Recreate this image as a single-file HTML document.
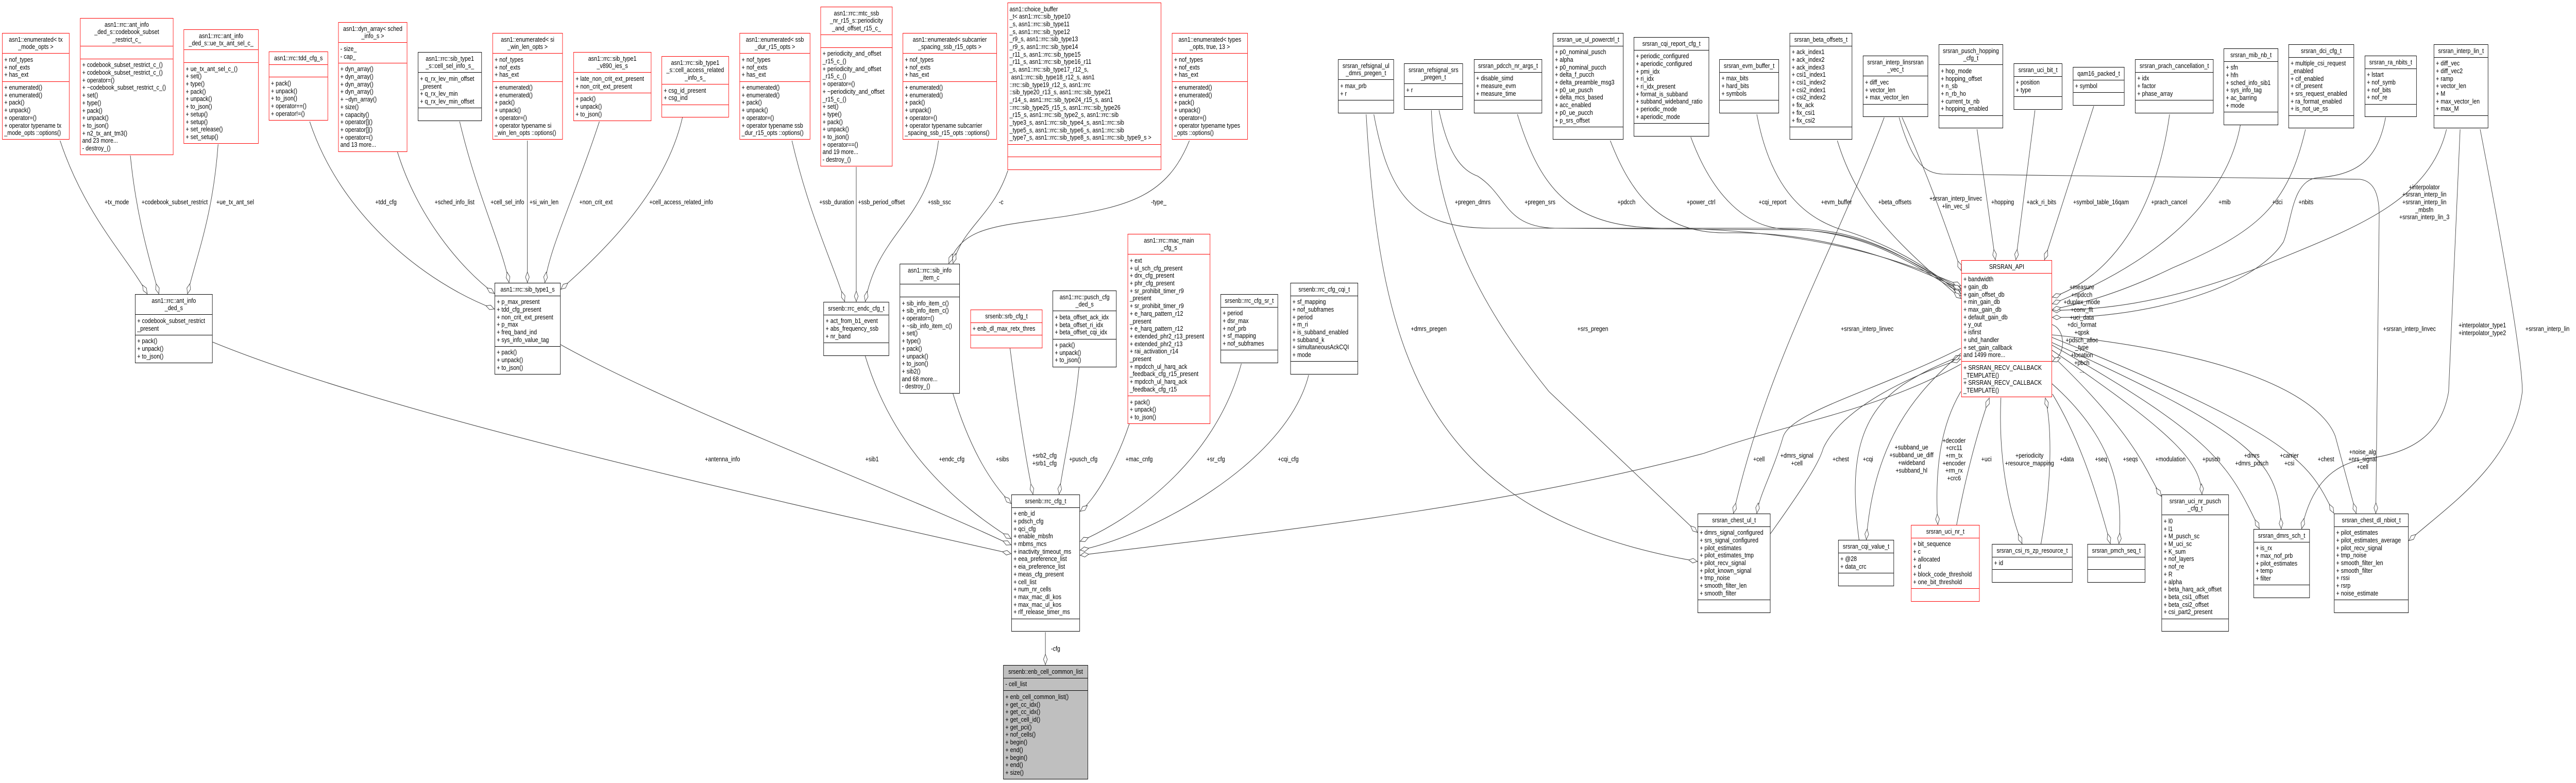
<!DOCTYPE html>
<html><head><meta charset="utf-8">
<meta name="viewport" content="width=6047, initial-scale=1">
<style>
html,body{margin:0;padding:0;background:#fff;width:6047px;height:1520px;overflow:hidden}
#w{position:absolute;left:0;top:0;width:6047px;height:1520px;overflow:hidden;background:#fff;transform-origin:0 0}
svg{position:absolute;left:0;top:0;display:block}
.b{position:absolute;box-sizing:border-box;border:1px solid #000;background:#fff;font:13px/14.7px "Liberation Sans",sans-serif;color:#000;z-index:2}
.b>div{padding:4.5px 4px;border-top:1px solid #000;white-space:nowrap;overflow:hidden}
.b>div:first-child{border-top:0;text-align:center}
.r{border-color:#f00}.r>div{border-color:#f00}
.g{background:#bfbfbf}
</style></head><body><div id="w">
<svg width="6047" height="1520" viewBox="0 0 6047 1520" xmlns="http://www.w3.org/2000/svg">
<defs><marker id="d" viewBox="-1 -6 23 12" refX="21" refY="0" markerWidth="23" markerHeight="12" markerUnits="userSpaceOnUse" orient="auto"><path d="M0,0 L10,-4.5 L20,0 L10,4.5 Z" fill="#fff" stroke="#404040" stroke-width="1"/></marker></defs>
<g fill="none" stroke="#404040" stroke-width="1.1" marker-end="url(#d)">
<path d="M141,273 C200,420 300,500 346,571"/>
<path d="M306,302 C320,420 350,500 373,571"/>
<path d="M512,280 C500,420 460,500 440,571"/>
<path d="M727,236 C800,420 1000,550 1161,600"/>
<path d="M933,295 C980,420 1080,520 1161,570"/>
<path d="M1079,236 C1120,380 1180,480 1195,549"/>
<path d="M1238,273 L1238,549"/>
<path d="M1407,236 C1350,380 1290,480 1279,549"/>
<path d="M1602,228 C1560,380 1400,500 1316,562"/>
<path d="M499,664 C900,800 1700,950 2374,1075"/>
<path d="M1316,669 C1600,800 2100,950 2374,1058"/>
<path d="M1859,273 C1900,420 1960,520 1983,586"/>
<path d="M2010,324 L2010,586"/>
<path d="M2203,273 C2180,430 2060,450 2031,586"/>
<path d="M2366,331 C2330,420 2260,440 2237,512"/>
<path d="M2792,273 C2740,380 2650,400 2500,420 C2330,440 2260,440 2227,512"/>
<path d="M2031,691 C2100,880 2250,980 2374,1046"/>
<path d="M2237,764 C2280,880 2330,940 2374,978"/>
<path d="M2371,676 C2390,800 2410,900 2425,960"/>
<path d="M2533,713 C2520,820 2495,900 2486,960"/>
<path d="M2651,823 C2620,900 2570,970 2535,993"/>
<path d="M2914,706 C2850,900 2650,1010 2535,1051"/>
<path d="M3072,728 C3020,900 2700,1040 2535,1068"/>
<path d="M4603,707 C4400,800 4200,820 4000,880 C3500,990 2900,1040 2535,1078"/>
<path d="M3225,222 C3260,380 3320,443 3500,443 L4200,443 C4400,443 4500,520 4604,565"/>
<path d="M3378,214 C3400,300 3430,330 3469,342 C3540,380 3530,440 3650,443 L4200,446 C4400,446 4500,520 4604,560"/>
<path d="M3562,222 C3620,380 3700,440 3900,443 C4300,445 4500,520 4604,555"/>
<path d="M3780,273 C3830,380 3900,452 4050,452 C4300,448 4500,520 4604,562"/>
<path d="M3969,266 C4020,380 4100,445 4200,445 C4400,450 4500,520 4604,570"/>
<path d="M4124,222 C4160,380 4250,430 4340,450 C4450,480 4550,530 4604,575"/>
<path d="M4313,273 C4360,400 4450,470 4604,580"/>
<path d="M4465,228 C4520,330 4560,420 4604,526"/>
<path d="M4458,228 C4490,320 4520,336 4560,338 L5540,348 C5575,352 5585,380 5585,420 L5577,997"/>
<path d="M4423,228 C4300,500 4150,700 4069,997"/>
<path d="M4603,676 C4400,760 4200,800 4185,850 C4160,920 4130,960 4124,997"/>
<path d="M4156,1036 C4230,950 4270,900 4280,870 C4320,800 4450,740 4603,697"/>
<path d="M4364,1048 C4340,900 4360,800 4480,740 C4540,710 4580,700 4603,690"/>
<path d="M4603,686 C4500,760 4400,850 4381,1048"/>
<path d="M4603,760 C4560,820 4540,900 4549,1019"/>
<path d="M4593,1019 C4620,900 4650,820 4670,772"/>
<path d="M4697,772 C4690,900 4720,1000 4747,1056"/>
<path d="M4791,1056 C4820,920 4815,820 4801,772"/>
<path d="M4818,765 C4880,850 4920,950 4954,1056"/>
<path d="M4817,745 C4960,850 4985,950 4974,1056"/>
<path d="M4817,690 C5020,850 5040,920 5074,964"/>
<path d="M4817,680 C5120,850 5165,900 5169,960"/>
<path d="M4817,670 C5200,850 5230,900 5304,1027"/>
<path d="M4817,665 C5310,850 5350,900 5355,1027"/>
<path d="M4817,655 C5400,850 5420,900 5479,997"/>
<path d="M4817,650 C5400,700 5470,820 5482,847 L5531,997"/>
<path d="M5775,251 L5748,760 C5730,850 5650,880 5560,890 C5460,900 5420,960 5403,1027"/>
<path d="M5822,251 C5880,500 5921,700 5921,760 C5900,900 5750,980 5654,1050"/>
<path d="M5743,251 C5700,400 5500,450 5300,520 C5050,600 4900,600 4817,603"/>
<path d="M5600,228 C5580,320 5520,340 5440,345 C5380,350 5380,430 5360,470 C5280,570 5000,620 4817,616"/>
<path d="M5412,251 C5370,400 5300,450 5100,520 C4950,580 4850,595 4817,601"/>
<path d="M5259,243 C5220,420 5000,530 4817,590"/>
<path d="M5093,222 C5060,420 4950,540 4817,577"/>
<path d="M4915,206 L4799,505"/>
<path d="M4777,214 L4732,505"/>
<path d="M4641,251 L4684,505"/>
<path d="M2454,1227 L2454,1291"/>
<path d="M3207,222 C3240,700 3350,1000 3985,1090"/>
<path d="M3360,214 C3370,450 3500,620 3636,760 L3985,1034"/>
<path d="M4817,630 C4850,640 4850,690 4817,702"/>
</g>
<g font-family="Liberation Sans, sans-serif" font-size="13" fill="#000" text-anchor="middle" dominant-baseline="central">
<text x="274" y="392">+tx_mode</text>
<text x="410" y="392">+codebook_subset_restrict</text>
<text x="552" y="392">+ue_tx_ant_sel</text>
<text x="906" y="392">+tdd_cfg</text>
<text x="1067" y="392">+sched_info_list</text>
<text x="1191" y="392">+cell_sel_info</text>
<text x="1277" y="392">+si_win_len</text>
<text x="1399" y="392">+non_crit_ext</text>
<text x="1599" y="392">+cell_access_related_info</text>
<text x="1964" y="392">+ssb_duration</text>
<text x="2069" y="392">+ssb_period_offset</text>
<text x="2205" y="392">+ssb_ssc</text>
<text x="2350" y="392">-c</text>
<text x="2720" y="392">-type_</text>
<text x="3457" y="392">+pregen_dmrs</text>
<text x="3615" y="392">+pregen_srs</text>
<text x="3818" y="392">+pdcch</text>
<text x="3993" y="392">+power_ctrl</text>
<text x="4161" y="392">+cqi_report</text>
<text x="4311" y="392">+evm_buffer</text>
<text x="4448" y="392">+beta_offsets</text>
<text x="4591" y="385">+srsran_interp_linvec</text>
<text x="4591" y="400">+lin_vec_sl</text>
<text x="4701" y="392">+hopping</text>
<text x="4792" y="392">+ack_ri_bits</text>
<text x="4932" y="392">+symbol_table_16qam</text>
<text x="5092" y="392">+prach_cancel</text>
<text x="5222" y="392">+mib</text>
<text x="5346" y="392">+dci</text>
<text x="5413" y="392">+nbits</text>
<text x="5691" y="363">+interpolator</text>
<text x="5691" y="377">+srsran_interp_lin</text>
<text x="5691" y="392">+srsran_interp_lin</text>
<text x="5691" y="407">_mbsfn</text>
<text x="5691" y="421">+srsran_interp_lin_3</text>
<text x="3354" y="638">+dmrs_pregen</text>
<text x="3739" y="638">+srs_pregen</text>
<text x="4383" y="638">+srsran_interp_linvec</text>
<text x="5656" y="638">+srsran_interp_linvec</text>
<text x="5827" y="631">+interpolator_type1</text>
<text x="5827" y="646">+interpolator_type2</text>
<text x="5980" y="638">+srsran_interp_lin</text>
<text x="1696" y="891">+antenna_info</text>
<text x="2047" y="891">+sib1</text>
<text x="2234" y="891">+endc_cfg</text>
<text x="2353" y="891">+sibs</text>
<text x="2452" y="884">+srb2_cfg</text>
<text x="2452" y="899">+srb1_cfg</text>
<text x="2543" y="891">+pusch_cfg</text>
<text x="2674" y="891">+mac_cnfg</text>
<text x="2854" y="891">+sr_cfg</text>
<text x="3024" y="891">+cqi_cfg</text>
<text x="4129" y="891">+cell</text>
<text x="4218" y="884">+dmrs_signal</text>
<text x="4218" y="899">+cell</text>
<text x="4321" y="891">+chest</text>
<text x="4385" y="891">+cqi</text>
<text x="4487" y="868">+subband_ue</text>
<text x="4487" y="883">+subband_ue_diff</text>
<text x="4487" y="898">+wideband</text>
<text x="4487" y="913">+subband_hl</text>
<text x="4587" y="855">+decoder</text>
<text x="4587" y="869">+crc11</text>
<text x="4587" y="884">+rm_tx</text>
<text x="4587" y="899">+encoder</text>
<text x="4587" y="913">+rm_rx</text>
<text x="4587" y="928">+crc6</text>
<text x="4663" y="891">+uci</text>
<text x="4764" y="884">+periodicity</text>
<text x="4764" y="899">+resource_mapping</text>
<text x="4852" y="891">+data</text>
<text x="4932" y="891">+seq</text>
<text x="5001" y="891">+seqs</text>
<text x="5095" y="891">+modulation</text>
<text x="5191" y="891">+pusch</text>
<text x="5286" y="884">+dmrs</text>
<text x="5286" y="899">+dmrs_pdsch</text>
<text x="5374" y="884">+carrier</text>
<text x="5374" y="899">+csi</text>
<text x="5460" y="891">+chest</text>
<text x="5546" y="877">+noise_alg</text>
<text x="5546" y="891">+nrs_signal</text>
<text x="5546" y="906">+cell</text>
<text x="2478" y="1259">-cfg</text>
<text x="4887" y="557">+measure</text>
<text x="4887" y="572">+npdcch</text>
<text x="4887" y="586">+duplex_mode</text>
<text x="4887" y="601">+conv_fft</text>
<text x="4887" y="616">+uci_data</text>
<text x="4887" y="630">+dci_format</text>
<text x="4887" y="645">+qpsk</text>
<text x="4887" y="660">+pdsch_alloc</text>
<text x="4887" y="674">_type</text>
<text x="4887" y="689">+location</text>
<text x="4887" y="704">+pbch</text>
<text x="4887" y="719">...</text>
</g>
</svg>

<div class="b r" style="left:5px;top:64px;width:158px"><div>asn1::enumerated&lt; tx<br>_mode_opts &gt;</div><div>+ nof_types<br>+ nof_exts<br>+ has_ext</div><div>+ enumerated()<br>+ enumerated()<br>+ pack()<br>+ unpack()<br>+ operator=()<br>+ operator typename tx<br>_mode_opts ::options()</div></div>

<div class="b r" style="left:188px;top:35px;width:219px"><div>asn1::rrc::ant_info<br>_ded_s::codebook_subset<br>_restrict_c_</div><div>&nbsp;</div><div>+ codebook_subset_restrict_c_()<br>+ codebook_subset_restrict_c_()<br>+ operator=()<br>+ ~codebook_subset_restrict_c_()<br>+ set()<br>+ type()<br>+ pack()<br>+ unpack()<br>+ to_json()<br>+ n2_tx_ant_tm3()<br>and 23 more...<br>- destroy_()</div></div>

<div class="b r" style="left:431px;top:57px;width:176px"><div>asn1::rrc::ant_info<br>_ded_s::ue_tx_ant_sel_c_</div><div>&nbsp;</div><div>+ ue_tx_ant_sel_c_()<br>+ set()<br>+ type()<br>+ pack()<br>+ unpack()<br>+ to_json()<br>+ setup()<br>+ setup()<br>+ set_release()<br>+ set_setup()</div></div>

<div class="b r" style="left:631px;top:100px;width:139px"><div>asn1::rrc::tdd_cfg_s</div><div>&nbsp;</div><div>+ pack()<br>+ unpack()<br>+ to_json()<br>+ operator==()<br>+ operator!=()</div></div>

<div class="b r" style="left:794px;top:43px;width:162px"><div>asn1::dyn_array&lt; sched<br>_info_s &gt;</div><div>- size_<br>- cap_</div><div>+ dyn_array()<br>+ dyn_array()<br>+ dyn_array()<br>+ dyn_array()<br>+ ~dyn_array()<br>+ size()<br>+ capacity()<br>+ operator[]()<br>+ operator[]()<br>+ operator=()<br>and 13 more...</div></div>

<div class="b" style="left:981px;top:101px;width:150px"><div>asn1::rrc::sib_type1<br>_s::cell_sel_info_s_</div><div>+ q_rx_lev_min_offset<br>_present<br>+ q_rx_lev_min<br>+ q_rx_lev_min_offset</div><div>&nbsp;</div></div>

<div class="b r" style="left:1156px;top:64px;width:165px"><div>asn1::enumerated&lt; si<br>_win_len_opts &gt;</div><div>+ nof_types<br>+ nof_exts<br>+ has_ext</div><div>+ enumerated()<br>+ enumerated()<br>+ pack()<br>+ unpack()<br>+ operator=()<br>+ operator typename si<br>_win_len_opts ::options()</div></div>

<div class="b r" style="left:1346px;top:101px;width:183px"><div>asn1::rrc::sib_type1<br>_v890_ies_s</div><div>+ late_non_crit_ext_present<br>+ non_crit_ext_present</div><div>+ pack()<br>+ unpack()<br>+ to_json()</div></div>

<div class="b r" style="left:1553px;top:109px;width:158px"><div>asn1::rrc::sib_type1<br>_s::cell_access_related<br>_info_s_</div><div>+ csg_id_present<br>+ csg_ind</div><div>&nbsp;</div></div>

<div class="b r" style="left:1736px;top:64px;width:166px"><div>asn1::enumerated&lt; ssb<br>_dur_r15_opts &gt;</div><div>+ nof_types<br>+ nof_exts<br>+ has_ext</div><div>+ enumerated()<br>+ enumerated()<br>+ pack()<br>+ unpack()<br>+ operator=()<br>+ operator typename ssb<br>_dur_r15_opts ::options()</div></div>

<div class="b r" style="left:1926px;top:13px;width:169px"><div>asn1::rrc::mtc_ssb<br>_nr_r15_s::periodicity<br>_and_offset_r15_c_</div><div>&nbsp;</div><div>+ periodicity_and_offset<br>_r15_c_()<br>+ periodicity_and_offset<br>_r15_c_()<br>+ operator=()<br>+ ~periodicity_and_offset<br>_r15_c_()<br>+ set()<br>+ type()<br>+ pack()<br>+ unpack()<br>+ to_json()<br>+ operator==()<br>and 19 more...<br>- destroy_()</div></div>

<div class="b r" style="left:2119px;top:64px;width:221px"><div>asn1::enumerated&lt; subcarrier<br>_spacing_ssb_r15_opts &gt;</div><div>+ nof_types<br>+ nof_exts<br>+ has_ext</div><div>+ enumerated()<br>+ enumerated()<br>+ pack()<br>+ unpack()<br>+ operator=()<br>+ operator typename subcarrier<br>_spacing_ssb_r15_opts ::options()</div></div>

<div class="b r" style="left:2365px;top:5px;width:361px"><div style="text-align:left">asn1::choice_buffer<br>_t&lt; asn1::rrc::sib_type10<br>_s, asn1::rrc::sib_type11<br>_s, asn1::rrc::sib_type12<br>_r9_s, asn1::rrc::sib_type13<br>_r9_s, asn1::rrc::sib_type14<br>_r11_s, asn1::rrc::sib_type15<br>_r11_s, asn1::rrc::sib_type16_r11<br>_s, asn1::rrc::sib_type17_r12_s,<br>&nbsp;asn1::rrc::sib_type18_r12_s, asn1<br>::rrc::sib_type19_r12_s, asn1::rrc<br>::sib_type20_r13_s, asn1::rrc::sib_type21<br>_r14_s, asn1::rrc::sib_type24_r15_s, asn1<br>::rrc::sib_type25_r15_s, asn1::rrc::sib_type26<br>_r15_s, asn1::rrc::sib_type2_s, asn1::rrc::sib<br>_type3_s, asn1::rrc::sib_type4_s, asn1::rrc::sib<br>_type5_s, asn1::rrc::sib_type6_s, asn1::rrc::sib<br>_type7_s, asn1::rrc::sib_type8_s, asn1::rrc::sib_type9_s &gt;</div><div>&nbsp;</div><div>&nbsp;</div></div>

<div class="b r" style="left:2751px;top:64px;width:178px"><div>asn1::enumerated&lt; types<br>_opts, true, 13 &gt;</div><div>+ nof_types<br>+ nof_exts<br>+ has_ext</div><div>+ enumerated()<br>+ enumerated()<br>+ pack()<br>+ unpack()<br>+ operator=()<br>+ operator typename types<br>_opts ::options()</div></div>

<div class="b" style="left:317px;top:571px;width:182px"><div>asn1::rrc::ant_info<br>_ded_s</div><div>+ codebook_subset_restrict<br>_present</div><div>+ pack()<br>+ unpack()<br>+ to_json()</div></div>

<div class="b" style="left:1161px;top:549px;width:155px"><div>asn1::rrc::sib_type1_s</div><div>+ p_max_present<br>+ tdd_cfg_present<br>+ non_crit_ext_present<br>+ p_max<br>+ freq_band_ind<br>+ sys_info_value_tag</div><div>+ pack()<br>+ unpack()<br>+ to_json()</div></div>

<div class="b" style="left:2112px;top:512px;width:141px"><div>asn1::rrc::sib_info<br>_item_c</div><div>&nbsp;</div><div>+ sib_info_item_c()<br>+ sib_info_item_c()<br>+ operator=()<br>+ ~sib_info_item_c()<br>+ set()<br>+ type()<br>+ pack()<br>+ unpack()<br>+ to_json()<br>+ sib2()<br>and 68 more...<br>- destroy_()</div></div>

<div class="b" style="left:1933px;top:586px;width:154px"><div>srsenb::rrc_endc_cfg_t</div><div>+ act_from_b1_event<br>+ abs_frequency_ssb<br>+ nr_band</div><div>&nbsp;</div></div>

<div class="b r" style="left:2278px;top:601px;width:169px"><div>srsenb::srb_cfg_t</div><div>+ enb_dl_max_retx_thres</div><div>&nbsp;</div></div>

<div class="b" style="left:2471px;top:564px;width:150px"><div>asn1::rrc::pusch_cfg<br>_ded_s</div><div>+ beta_offset_ack_idx<br>+ beta_offset_ri_idx<br>+ beta_offset_cqi_idx</div><div>+ pack()<br>+ unpack()<br>+ to_json()</div></div>

<div class="b r" style="left:2647px;top:454px;width:194px"><div>asn1::rrc::mac_main<br>_cfg_s</div><div>+ ext<br>+ ul_sch_cfg_present<br>+ drx_cfg_present<br>+ phr_cfg_present<br>+ sr_prohibit_timer_r9<br>_present<br>+ sr_prohibit_timer_r9<br>+ e_harq_pattern_r12<br>_present<br>+ e_harq_pattern_r12<br>+ extended_phr2_r13_present<br>+ extended_phr2_r13<br>+ rai_activation_r14<br>_present<br>+ mpdcch_ul_harq_ack<br>_feedback_cfg_r15_present<br>+ mpdcch_ul_harq_ack<br>_feedback_cfg_r15</div><div>+ pack()<br>+ unpack()<br>+ to_json()</div></div>

<div class="b" style="left:2865px;top:571px;width:135px"><div>srsenb::rrc_cfg_sr_t</div><div>+ period<br>+ dsr_max<br>+ nof_prb<br>+ sf_mapping<br>+ nof_subframes</div><div>&nbsp;</div></div>

<div class="b" style="left:3029px;top:549px;width:159px"><div>srsenb::rrc_cfg_cqi_t</div><div>+ sf_mapping<br>+ nof_subframes<br>+ period<br>+ m_ri<br>+ is_subband_enabled<br>+ subband_k<br>+ simultaneousAckCQI<br>+ mode</div><div>&nbsp;</div></div>

<div class="b" style="left:3141px;top:115px;width:131px"><div>srsran_refsignal_ul<br>_dmrs_pregen_t</div><div>+ max_prb<br>+ r</div><div>&nbsp;</div></div>

<div class="b" style="left:3296px;top:123px;width:138px"><div>srsran_refsignal_srs<br>_pregen_t</div><div>+ r</div><div>&nbsp;</div></div>

<div class="b" style="left:3460px;top:115px;width:160px"><div>srsran_pdcch_nr_args_t</div><div>+ disable_simd<br>+ measure_evm<br>+ measure_time</div><div>&nbsp;</div></div>

<div class="b" style="left:3645px;top:64px;width:166px"><div>srsran_ue_ul_powerctrl_t</div><div>+ p0_nominal_pusch<br>+ alpha<br>+ p0_nominal_pucch<br>+ delta_f_pucch<br>+ delta_preamble_msg3<br>+ p0_ue_pusch<br>+ delta_mcs_based<br>+ acc_enabled<br>+ p0_ue_pucch<br>+ p_srs_offset</div><div>&nbsp;</div></div>

<div class="b" style="left:3835px;top:72px;width:177px"><div>srsran_cqi_report_cfg_t</div><div>+ periodic_configured<br>+ aperiodic_configured<br>+ pmi_idx<br>+ ri_idx<br>+ ri_idx_present<br>+ format_is_subband<br>+ subband_wideband_ratio<br>+ periodic_mode<br>+ aperiodic_mode</div><div>&nbsp;</div></div>

<div class="b" style="left:4036px;top:115px;width:140px"><div>srsran_evm_buffer_t</div><div>+ max_bits<br>+ hard_bits<br>+ symbols</div><div>&nbsp;</div></div>

<div class="b" style="left:4201px;top:64px;width:147px"><div>srsran_beta_offsets_t</div><div>+ ack_index1<br>+ ack_index2<br>+ ack_index3<br>+ csi1_index1<br>+ csi1_index2<br>+ csi2_index1<br>+ csi2_index2<br>+ fix_ack<br>+ fix_csi1<br>+ fix_csi2</div><div>&nbsp;</div></div>

<div class="b" style="left:4373px;top:108px;width:153px"><div>srsran_interp_linsrsran<br>_vec_t</div><div>+ diff_vec<br>+ vector_len<br>+ max_vector_len</div><div>&nbsp;</div></div>

<div class="b" style="left:4551px;top:86px;width:151px"><div>srsran_pusch_hopping<br>_cfg_t</div><div>+ hop_mode<br>+ hopping_offset<br>+ n_sb<br>+ n_rb_ho<br>+ current_tx_nb<br>+ hopping_enabled</div><div>&nbsp;</div></div>

<div class="b" style="left:4727px;top:123px;width:114px"><div>srsran_uci_bit_t</div><div>+ position<br>+ type</div><div>&nbsp;</div></div>

<div class="b" style="left:4866px;top:130px;width:121px"><div>qam16_packed_t</div><div>+ symbol</div><div>&nbsp;</div></div>

<div class="b" style="left:5012px;top:115px;width:184px"><div>srsran_prach_cancellation_t</div><div>+ idx<br>+ factor<br>+ phase_array</div><div>&nbsp;</div></div>

<div class="b" style="left:5220px;top:94px;width:128px"><div>srsran_mib_nb_t</div><div>+ sfn<br>+ hfn<br>+ sched_info_sib1<br>+ sys_info_tag<br>+ ac_barring<br>+ mode</div><div>&nbsp;</div></div>

<div class="b" style="left:5372px;top:86px;width:154px"><div>srsran_dci_cfg_t</div><div>+ multiple_csi_request<br>_enabled<br>+ cif_enabled<br>+ cif_present<br>+ srs_request_enabled<br>+ ra_format_enabled<br>+ is_not_ue_ss</div><div>&nbsp;</div></div>

<div class="b" style="left:5551px;top:108px;width:122px"><div>srsran_ra_nbits_t</div><div>+ lstart<br>+ nof_symb<br>+ nof_bits<br>+ nof_re</div><div>&nbsp;</div></div>

<div class="b" style="left:5713px;top:86px;width:128px"><div>srsran_interp_lin_t</div><div>+ diff_vec<br>+ diff_vec2<br>+ ramp<br>+ vector_len<br>+ M<br>+ max_vector_len<br>+ max_M</div><div>&nbsp;</div></div>

<div class="b r" style="left:4604px;top:505px;width:213px"><div>SRSRAN_API</div><div>+ bandwidth<br>+ gain_db<br>+ gain_offset_db<br>+ min_gain_db<br>+ max_gain_db<br>+ default_gain_db<br>+ y_out<br>+ isfirst<br>+ uhd_handler<br>+ set_gain_callback<br>and 1499 more...</div><div>+ SRSRAN_RECV_CALLBACK<br>_TEMPLATE()<br>+ SRSRAN_RECV_CALLBACK<br>_TEMPLATE()</div></div>

<div class="b" style="left:2374px;top:960px;width:161px"><div>srsenb::rrc_cfg_t</div><div>+ enb_id<br>+ pdsch_cfg<br>+ qci_cfg<br>+ enable_mbsfn<br>+ mbms_mcs<br>+ inactivity_timeout_ms<br>+ eea_preference_list<br>+ eia_preference_list<br>+ meas_cfg_present<br>+ cell_list<br>+ num_nr_cells<br>+ max_mac_dl_kos<br>+ max_mac_ul_kos<br>+ rlf_release_timer_ms</div><div>&nbsp;</div></div>

<div class="b g" style="left:2355px;top:1291px;width:199px"><div>srsenb::enb_cell_common_list</div><div>- cell_list</div><div>+ enb_cell_common_list()<br>+ get_cc_idx()<br>+ get_cc_idx()<br>+ get_cell_id()<br>+ get_pci()<br>+ nof_cells()<br>+ begin()<br>+ end()<br>+ begin()<br>+ end()<br>+ size()</div></div>

<div class="b" style="left:3985px;top:997px;width:171px"><div>srsran_chest_ul_t</div><div>+ dmrs_signal_configured<br>+ srs_signal_configured<br>+ pilot_estimates<br>+ pilot_estimates_tmp<br>+ pilot_recv_signal<br>+ pilot_known_signal<br>+ tmp_noise<br>+ smooth_filter_len<br>+ smooth_filter</div><div>&nbsp;</div></div>

<div class="b" style="left:4315px;top:1048px;width:131px"><div>srsran_cqi_value_t</div><div>+ @28<br>+ data_crc</div><div>&nbsp;</div></div>

<div class="b r" style="left:4486px;top:1019px;width:161px"><div>srsran_uci_nr_t</div><div>+ bit_sequence<br>+ c<br>+ allocated<br>+ d<br>+ block_code_threshold<br>+ one_bit_threshold</div><div>&nbsp;</div></div>

<div class="b" style="left:4676px;top:1056px;width:189px"><div>srsran_csi_rs_zp_resource_t</div><div>+ id</div><div>&nbsp;</div></div>

<div class="b" style="left:4900px;top:1056px;width:136px"><div>srsran_pmch_seq_t</div><div>&nbsp;</div><div>&nbsp;</div></div>

<div class="b" style="left:5074px;top:960px;width:158px"><div>srsran_uci_nr_pusch<br>_cfg_t</div><div>+ l0<br>+ l1<br>+ M_pusch_sc<br>+ M_uci_sc<br>+ K_sum<br>+ nof_layers<br>+ nof_re<br>+ R<br>+ alpha<br>+ beta_harq_ack_offset<br>+ beta_csi1_offset<br>+ beta_csi2_offset<br>+ csi_part2_present</div><div>&nbsp;</div></div>

<div class="b" style="left:5290px;top:1027px;width:132px"><div>srsran_dmrs_sch_t</div><div>+ is_rx<br>+ max_nof_prb<br>+ pilot_estimates<br>+ temp<br>+ filter</div><div>&nbsp;</div></div>

<div class="b" style="left:5479px;top:997px;width:175px"><div>srsran_chest_dl_nbiot_t</div><div>+ pilot_estimates<br>+ pilot_estimates_average<br>+ pilot_recv_signal<br>+ tmp_noise<br>+ smooth_filter_len<br>+ smooth_filter<br>+ rssi<br>+ rsrp<br>+ noise_estimate</div><div>&nbsp;</div></div>

</div>
<script>
(function(){
  var w=window.innerWidth||document.documentElement.clientWidth||6047;
  var h=window.innerHeight||document.documentElement.clientHeight||1520;
  var sx=Math.min(1,w/6047), sy=Math.min(1,h/1520);
  if(sx<0.999||sy<0.999){
    document.getElementById('w').style.transform='scale('+sx+','+sy+')';
  }
})();
</script>
</body></html>
